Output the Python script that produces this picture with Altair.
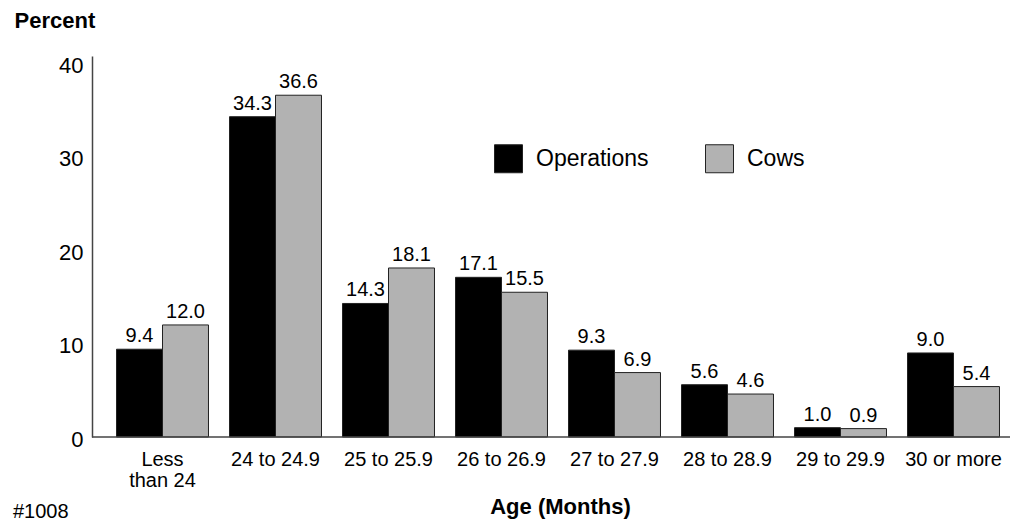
import altair as alt
import pandas as pd

categories = ["Less than 24", "24 to 24.9", "25 to 25.9", "26 to 26.9",
              "27 to 27.9", "28 to 28.9", "29 to 29.9", "30 or more"]
operations = [9.4, 34.3, 14.3, 17.1, 9.3, 5.6, 1.0, 9.0]
cows = [12.0, 36.6, 18.1, 15.5, 6.9, 4.6, 0.9, 5.4]
series = ["Operations", "Cows"]
colors = ["#000000", "#b2b2b2"]

rows = []
for c, o, w in zip(categories, operations, cows):
    rows.append({"cat": c, "series": "Operations", "value": o})
    rows.append({"cat": c, "series": "Cows", "value": w})
df = pd.DataFrame(rows)

FONT = "Liberation Sans"
W, H = 918, 381

x_enc = alt.X("cat:N", sort=categories,
              scale=alt.Scale(range=[14, 918], paddingInner=0.186, paddingOuter=0.093),
              axis=alt.Axis(title="Age (Months)", labelAngle=0, domain=False, ticks=False,
                            labelFontSize=20, labelPadding=12, labelLineHeight=21,
                            labelColor="#000", labelFont=FONT,
                            labelExpr="datum.value == 'Less than 24' ? ['Less', 'than 24'] : datum.value",
                            titleFont=FONT, titleFontSize=22, titleFontWeight="bold",
                            titleColor="#000", titleX=468, titleY=76,
                            titleAlign="center", titleBaseline="alphabetic"))
xoff = alt.XOffset("series:N", sort=series, scale=alt.Scale(paddingInner=0, paddingOuter=0))
y_enc = alt.Y("value:Q", scale=alt.Scale(domain=[0, 40.8], nice=False),
              axis=alt.Axis(values=[0, 10, 20, 30, 40], ticks=False, grid=False,
                            domainColor="#444", domainWidth=1.5,
                            labelFontSize=22, labelFont=FONT, labelColor="#000",
                            labelPadding=9, labelOffset=2,
                            title="Percent", titleAngle=0, titleAlign="left",
                            titleBaseline="alphabetic", titleX=-78, titleY=-29,
                            titleFont=FONT, titleFontSize=22, titleFontWeight="bold",
                            titleColor="#000"))

base = alt.Chart(df)
bars = base.mark_bar(stroke="#222", strokeWidth=1).encode(
    x=x_enc, xOffset=xoff, y=y_enc,
    color=alt.Color("series:N", sort=series,
                    scale=alt.Scale(domain=series, range=colors),
                    legend=alt.Legend(title=None, orient="none", legendX=402, legendY=88,
                                      direction="horizontal", symbolType="square",
                                      symbolSize=784, symbolStrokeColor="#222",
                                      symbolStrokeWidth=1, labelFontSize=23,
                                      labelFont=FONT, labelColor="#000", labelOffset=13,
                                      columnPadding=54, padding=0)),
)
labels = base.mark_text(baseline="alphabetic", dy=-7, fontSize=20, font=FONT, color="#000").encode(
    x=alt.X("cat:N", sort=categories), xOffset=xoff, y="value:Q",
    text=alt.Text("value:Q", format=".1f"),
)
baseline = alt.Chart(pd.DataFrame({"y": [0]})).mark_rule(color="#444", strokeWidth=1.5).encode(
    y="y:Q"
)
note = alt.Chart(pd.DataFrame({"t": ["#1008"]})).mark_text(
    align="left", baseline="alphabetic", fontSize=20, font=FONT, color="#000"
).encode(x=alt.value(-79), y=alt.value(462), text="t:N")

chart = alt.layer(bars, labels, baseline, note).properties(
    width=W, height=H,
    background="white",
    autosize=alt.AutoSizeParams(type="none"),
    padding={"left": 84, "top": 48, "right": 2, "bottom": 86},
).configure_view(stroke=None)

chart.save("out.html", embed_options={"renderer": "svg", "actions": False})
